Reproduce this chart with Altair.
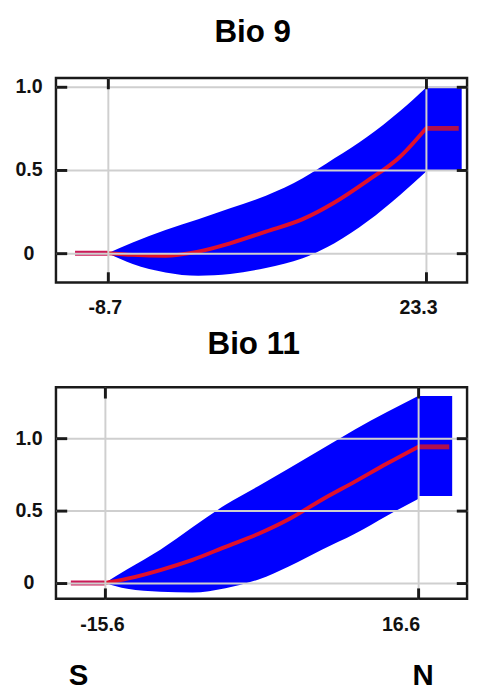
import altair as alt
import pandas as pd

# ---------------- Bio 9 ----------------
b9_x = [-8.7, -6.2, -2.9, 0.4, 3.6, 7.2, 10.9, 14.1, 17.4, 20.7, 23.3]
b9_hi = [0.0, 0.065, 0.14, 0.205, 0.27, 0.345, 0.45, 0.57, 0.70, 0.855, 0.995]
b9_lo = [0.0, -0.065, -0.115, -0.135, -0.125, -0.088, -0.03, 0.06, 0.19, 0.35, 0.49]
b9_mean = [0.0, -0.01, -0.015, 0.01, 0.06, 0.13, 0.205, 0.305, 0.435, 0.58, 0.75]
b9_left_x = [-12.0, -8.7]
b9_left_y = [0.0, 0.0]
b9_right_x = [23.3, 26.6]
b9_right_y = [0.75, 0.75]
b9_block = {"x": [23.3], "x2": [26.9], "lo": [0.5], "hi": [1.0]}
b9_xticks = [-8.7, 23.3]
b9_yticks = [0, 0.5, 1.0]
b9_xdom = [-13.92, 27.44]
b9_ydom = [-0.176, 1.053]

# ---------------- Bio 11 ----------------
b11_x = [-15.6, -13.3, -9.9, -6.6, -3.2, 0.2, 3.3, 6.7, 10.1, 13.4, 16.6]
b11_hi = [0.0, 0.095, 0.23, 0.385, 0.54, 0.67, 0.79, 0.925, 1.06, 1.18, 1.29]
b11_lo = [0.0, -0.04, -0.06, -0.065, -0.035, 0.025, 0.115, 0.23, 0.34, 0.465, 0.58]
b11_mean = [0.0, 0.03, 0.09, 0.16, 0.25, 0.34, 0.44, 0.575, 0.70, 0.825, 0.94]
b11_left_x = [-19.1, -15.6]
b11_left_y = [0.0, 0.0]
b11_right_x = [16.6, 19.8]
b11_right_y = [0.94, 0.94]
b11_block = {"x": [16.6], "x2": [20.1], "lo": [0.60], "hi": [1.29]}
b11_xticks = [-15.6, 16.6]
b11_yticks = [0, 0.5, 1.0]
b11_xdom = [-20.63, 21.63]
b11_ydom = [-0.108, 1.351]

dir_labels = ["S", "N"]
dir_x = [-18.3, 17.1]

FONT = "Liberation Sans"
BLUE = "#0000ff"
W = 420


def panel(title, xs, lo, hi, mean, lx, ly, rx, ry, block, xdom, ydom,
          xticks, yticks, h, pos_off, neg_off, dx, toff, extra=None):
    xsc = alt.Scale(domain=xdom, nice=False, zero=False)
    ysc = alt.Scale(domain=ydom, nice=False, zero=False)
    tick = dict(domain=False, tickColor="#1a1a1a", tickWidth=3, tickSize=11,
                offset=-11, zindex=1, title=None)
    x_bottom = alt.Axis(
        orient="bottom", values=xticks, grid=True, gridColor="#cfcfcf",
        gridWidth=2, labelFont=FONT, labelFontSize=20, labelFontWeight="bold",
        labelColor="#111111", labelPadding=16,
        labelExpr="datum.value < 0 ? '-' + format(-datum.value, '.1f') : format(datum.value, '.1f')",
        labelOffset={"condition": {"test": "datum.value > 0", "value": pos_off},
                     "value": neg_off},
        **tick)
    y_left = alt.Axis(
        orient="left", values=yticks, grid=True, gridColor="#cfcfcf",
        gridWidth=2, labelFont=FONT, labelFontSize=20, labelFontWeight="bold",
        labelColor="#111111", labelAlign="center", labelBaseline="middle",
        labelPadding=28, minExtent=58, maxExtent=58,
        labelExpr="datum.value == 0 ? '0' : format(datum.value, '.1f')",
        **tick)
    x_top = alt.Axis(orient="top", values=xticks, grid=False, labels=False,
                     minExtent=0, maxExtent=0, **tick)
    y_right = alt.Axis(orient="right", values=yticks, grid=False,
                       labels=False, minExtent=0, maxExtent=0, **tick)

    band_df = pd.DataFrame({"x": xs, "lo": lo, "hi": hi})
    mean_df = pd.DataFrame({"x": xs, "y": mean})
    left_df = pd.DataFrame({"x": lx, "y": ly})
    right_df = pd.DataFrame({"x": rx, "y": ry})
    block_df = pd.DataFrame(block)

    area = alt.Chart(band_df).mark_area(color=BLUE, opacity=1,
                                        interpolate="monotone").encode(
        x=alt.X("x:Q", scale=xsc, axis=x_bottom),
        y=alt.Y("lo:Q", scale=ysc, axis=y_left),
        y2="hi:Q",
    )
    rect = alt.Chart(block_df).mark_rect(color=BLUE).encode(
        x=alt.X("x:Q", scale=xsc, axis=x_top),
        x2="x2:Q",
        y=alt.Y("lo:Q", scale=ysc, axis=y_right),
        y2="hi:Q",
    )
    lflat = alt.Chart(left_df).mark_line(color="#cc1a58", strokeWidth=5,
                                         strokeCap="butt").encode(
        x=alt.X("x:Q", scale=xsc, axis=None),
        y=alt.Y("y:Q", scale=ysc, axis=None),
    )
    curve = alt.Chart(mean_df).mark_line(color="#e0102c", strokeWidth=4,
                                         strokeCap="round",
                                         interpolate="monotone").encode(
        x=alt.X("x:Q", scale=xsc, axis=None),
        y=alt.Y("y:Q", scale=ysc, axis=None),
    )
    rflat = alt.Chart(right_df).mark_line(color="#b0104c", strokeWidth=5,
                                          strokeCap="butt").encode(
        x=alt.X("x:Q", scale=xsc, axis=None),
        y=alt.Y("y:Q", scale=ysc, axis=None),
    )
    layers = [area, rect, lflat, curve, rflat]
    if extra is not None:
        layers.append(extra(xsc, h))
    return alt.layer(*layers).resolve_axis(
        x="independent", y="independent"
    ).properties(
        width=W, height=h,
        title=alt.TitleParams(text=title, font=FONT, fontSize=32,
                              fontWeight="bold", color="#000000",
                              anchor="middle", dx=dx, offset=toff,
                              baseline="alphabetic"),
    )


def dir_layer(xsc, h):
    df = pd.DataFrame({"x": dir_x, "t": dir_labels})
    return alt.Chart(df).mark_text(font=FONT, fontSize=30, fontWeight="bold",
                                   color="#000000", baseline="alphabetic",
                                   align="center").encode(
        x=alt.X("x:Q", scale=xsc, axis=None),
        y=alt.value(h + 88),
        text="t:N",
    )


top = panel("Bio 9", b9_x, b9_lo, b9_hi, b9_mean, b9_left_x, b9_left_y,
            b9_right_x, b9_right_y, b9_block, b9_xdom, b9_ydom,
            b9_xticks, b9_yticks, 209, -8, -3, -9, 3)
bottom = panel("Bio 11", b11_x, b11_lo, b11_hi, b11_mean, b11_left_x,
               b11_left_y, b11_right_x, b11_right_y, b11_block, b11_xdom,
               b11_ydom, b11_xticks, b11_yticks, 216, -18, -3, -8, 0,
               extra=dir_layer)

chart = alt.vconcat(top, bottom, spacing=8).properties(
    padding={"left": 0, "top": 0, "right": 0, "bottom": 0}
).configure_view(stroke="#1a1a1a", strokeWidth=2.5)

chart.save("out.html", embed_options={"renderer": "svg", "actions": False})
